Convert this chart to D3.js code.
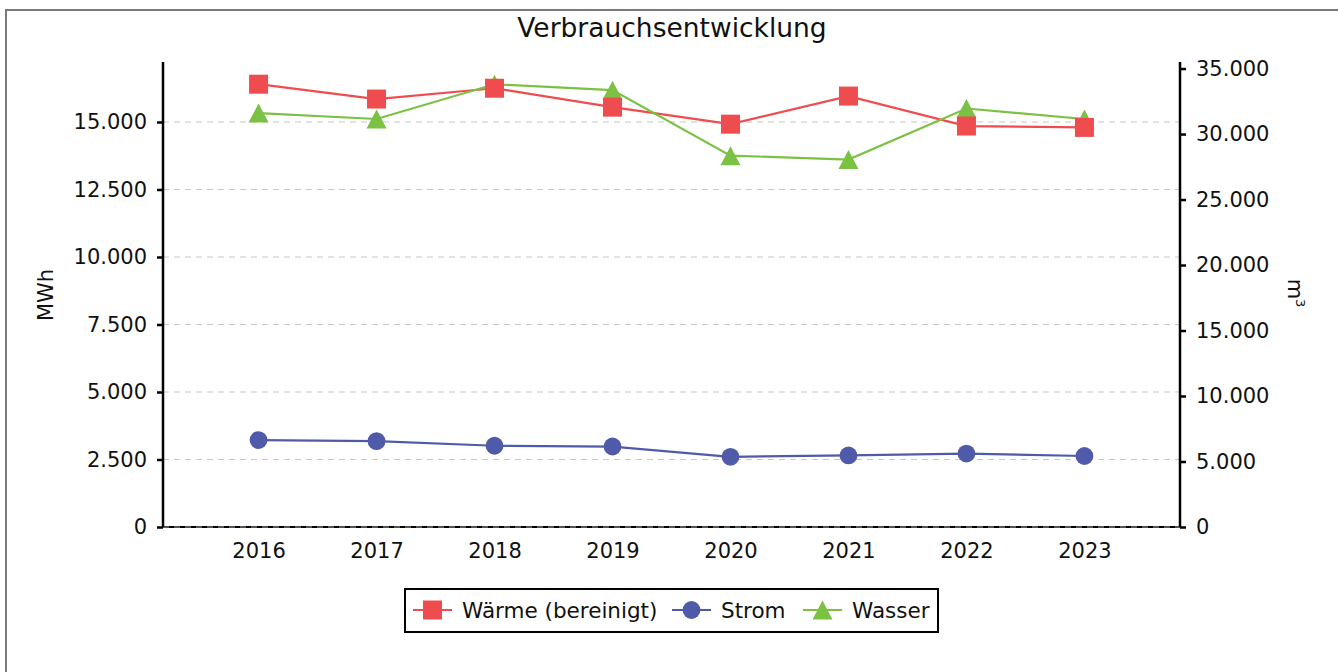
<!DOCTYPE html>
<html>
<head>
<meta charset="utf-8">
<script src="https://cdn.jsdelivr.net/npm/d3@7/dist/d3.min.js"></script>
<style>
  html, body { margin: 0; padding: 0; background: #fff; }
  svg { display: block; font-family: "DejaVu Sans", sans-serif; }
</style>
</head>
<body>
<svg id="chart" width="1338" height="672"></svg>
<script>
const years = ["2016", "2017", "2018", "2019", "2020", "2021", "2022", "2023"];
const waerme = [16400, 15850, 16250, 15550, 14920, 15960, 14850, 14800];
const strom = [3220, 3180, 3010, 2980, 2600, 2650, 2720, 2630];
const wasser = [31600, 31150, 33800, 33350, 28350, 28050, 31950, 31150];
const leftTicks = [0, 2500, 5000, 7500, 10000, 12500, 15000];
const rightTicks = [0, 5000, 10000, 15000, 20000, 25000, 30000, 35000];
const chartTitle = "Verbrauchsentwicklung";
const seriesNames = ["Wärme (bereinigt)", "Strom", "Wasser"];

(function () {
const colors = { waerme: "#ef4c4f", strom: "#4f5ba9", wasser: "#7bc143" };

const svg = d3.select("#chart");
const W = 1338, H = 672;
const pL = 163, pR = 1180, pT = 62, pB = 527;

// frame
svg.append("rect").attr("x", 6).attr("y", 10).attr("width", W + 10).attr("height", H + 10)
  .attr("fill", "#fff").attr("stroke", "#7a7a7a").attr("stroke-width", 2);

const x = d3.scalePoint().domain(years).range([pL, pR]).padding(0.81);
const yL = d3.scaleLinear().domain([0, 17222]).range([pB, pT]);
const yR = d3.scaleLinear().domain([0, 35500]).range([pB, pT]);

const fmt = v => d3.format(",")(v).replace(/,/g, ".");

// grid
svg.append("g").selectAll("line").data(leftTicks).join("line")
  .attr("x1", pL).attr("x2", pR)
  .attr("y1", d => yL(d)).attr("y2", d => yL(d))
  .attr("stroke", "#c8c8c8").attr("stroke-width", 1.2).attr("stroke-dasharray", "6,5");

// x axis line (solid) + dashed overlay
svg.append("line").attr("x1", pL).attr("x2", pR).attr("y1", pB).attr("y2", pB)
  .attr("stroke", "#000").attr("stroke-width", 2);
svg.append("line").attr("x1", pL).attr("x2", pR).attr("y1", pB).attr("y2", pB)
  .attr("stroke", "#aaa").attr("stroke-width", 1).attr("stroke-dasharray", "6,5");

const FS = 21;

// left axis
const gL = svg.append("g").attr("transform", `translate(${pL},0)`)
  .call(d3.axisLeft(yL).tickValues(leftTicks).tickFormat(fmt).tickSize(6).tickPadding(10).tickSizeOuter(0));
gL.select(".domain").attr("d", `M0,${pT}V${pB}`).attr("stroke-width", 2.5);
gL.selectAll(".tick line").attr("stroke-width", 2.5);
gL.selectAll("text").attr("font-size", FS).attr("fill", "#111").attr("font-family", "DejaVu Sans");

// right axis
const gR = svg.append("g").attr("transform", `translate(${pR},0)`)
  .call(d3.axisRight(yR).tickValues(rightTicks).tickFormat(fmt).tickSize(6).tickPadding(10).tickSizeOuter(0));
gR.select(".domain").attr("d", `M0,${pT}V${pB}`).attr("stroke-width", 2.5);
gR.selectAll(".tick line").attr("stroke-width", 2.5);
gR.selectAll("text").attr("font-size", FS).attr("fill", "#111").attr("font-family", "DejaVu Sans");

// x axis labels
const gX = svg.append("g").attr("transform", `translate(0,${pB})`)
  .call(d3.axisBottom(x).tickSize(0).tickPadding(16));
gX.select(".domain").remove();
gX.selectAll("text").attr("font-size", FS).attr("fill", "#111").attr("font-family", "DejaVu Sans");

// title
svg.append("text").attr("x", 672).attr("y", 37).attr("text-anchor", "middle")
  .attr("font-size", 26.5).attr("fill", "#111").text(chartTitle);

// axis titles
svg.append("text").attr("transform", "translate(53,295) rotate(-90)").attr("text-anchor", "middle")
  .attr("font-size", FS).attr("fill", "#111").text("MWh");
const mt = svg.append("text").attr("transform", "translate(1288,293) rotate(90)").attr("text-anchor", "middle")
  .attr("font-size", FS).attr("fill", "#111");
mt.append("tspan").text("m");
mt.append("tspan").attr("font-size", 13).attr("dy", -8).text("3");

// lines
const lineL = d3.line().x((d, i) => x(years[i])).y(d => yL(d));
const lineR = d3.line().x((d, i) => x(years[i])).y(d => yR(d));

svg.append("path").attr("d", lineL(waerme)).attr("fill", "none").attr("stroke", colors.waerme).attr("stroke-width", 2.2);
svg.append("path").attr("d", lineL(strom)).attr("fill", "none").attr("stroke", colors.strom).attr("stroke-width", 2.2);
svg.append("path").attr("d", lineR(wasser)).attr("fill", "none").attr("stroke", colors.wasser).attr("stroke-width", 2.2);

// triangle symbol centred on its bounding box, width 20, height 19
const triType = {
  draw(ctx, size) {
    const w = Math.sqrt(size), h = w * 0.95;
    ctx.moveTo(0, -h / 2);
    ctx.lineTo(w / 2, h / 2);
    ctx.lineTo(-w / 2, h / 2);
    ctx.closePath();
  }
};
const sq = d3.symbol().type(d3.symbolSquare).size(361);
const ci = d3.symbol().type(d3.symbolCircle).size(250);
const tr = d3.symbol().type(triType).size(400);

svg.append("g").selectAll("path").data(strom).join("path")
  .attr("d", ci).attr("fill", colors.strom)
  .attr("transform", (d, i) => `translate(${x(years[i])},${yL(d)})`);
svg.append("g").selectAll("path").data(wasser).join("path")
  .attr("d", tr).attr("fill", colors.wasser)
  .attr("transform", (d, i) => `translate(${x(years[i])},${yR(d)})`);
svg.append("g").selectAll("path").data(waerme).join("path")
  .attr("d", sq).attr("fill", colors.waerme)
  .attr("transform", (d, i) => `translate(${x(years[i])},${yL(d)})`);

// legend
const lg = svg.append("g");
lg.append("rect").attr("x", 405).attr("y", 589).attr("width", 533).attr("height", 43)
  .attr("fill", "#fff").attr("stroke", "#000").attr("stroke-width", 2);
const items = [
  { name: seriesNames[0], color: colors.waerme, sym: sq, x: 413 },
  { name: seriesNames[1], color: colors.strom, sym: ci, x: 672 },
  { name: seriesNames[2], color: colors.wasser, sym: tr, x: 803 }
];
items.forEach(it => {
  const g = lg.append("g").attr("transform", `translate(${it.x},610)`);
  g.append("line").attr("x1", 0).attr("x2", 39).attr("stroke", it.color).attr("stroke-width", 2.2);
  g.append("path").attr("d", it.sym).attr("fill", it.color)
    .attr("transform", `translate(19.5,0)`);
  g.append("text").attr("x", 49).attr("y", 8).attr("font-size", 21.5).attr("fill", "#111").text(it.name);
});
})();
</script>
</body>
</html>
